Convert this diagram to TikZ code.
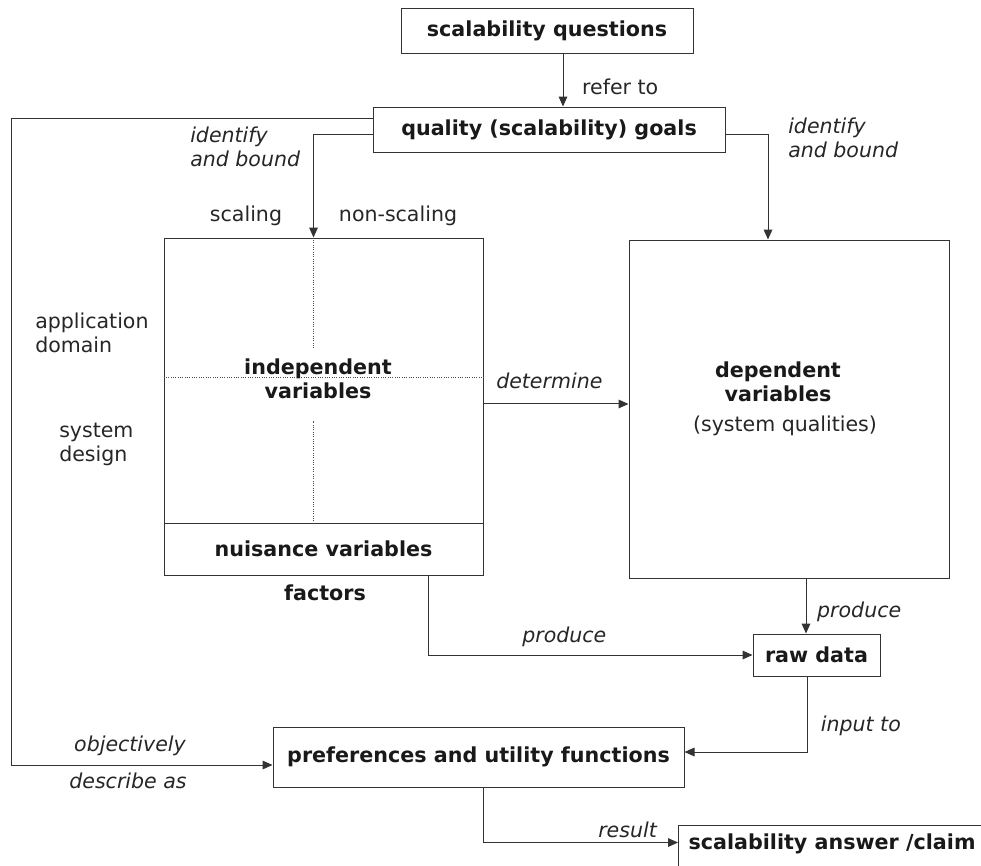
\documentclass[tikz,border=0pt]{standalone}
\usepackage{fontspec}
\setmainfont{DejaVu Sans}
\usetikzlibrary{arrows.meta}

\begin{document}
\begin{tikzpicture}[x=0.75pt,y=-0.75pt,>={Triangle[length=7.5pt,width=6.5pt]},
		box/.style={draw=black!80,line width=0.75pt,inner sep=0pt,text=black!90,align=center,font=\fontsize{15.5}{18}\selectfont\bfseries},
		txt/.style={inner sep=0pt,text=black!85,align=left,font=\fontsize{15.4}{18}\selectfont},
		slant/.style={txt,font=\fontsize{15.4}{18}\selectfont\itshape},
		link/.style={draw=black!80,line width=0.75pt},
		grid/.style={draw=black!70,line width=0.75pt,densely dotted}]
			\path[use as bounding box,clip] (0,0) rectangle (981,865);
			% boxes
			\node[box,minimum width=219pt,minimum height=33.75pt] (quest) at (547,30.5) {scalability questions};
			\node[box,minimum width=264pt,minimum height=33.75pt] (goals) at (549,129.5) {quality (scalability) goals};
			\node[box,minimum width=239.25pt,minimum height=213.75pt] (indep) at (323.5,380.5) {};
			\node[box,minimum width=239.25pt,minimum height=39pt] (nuis) at (323.5,549) {nuisance variables};
			\node[box,minimum width=240pt,minimum height=253.5pt] (dep) at (789,409) {};
			\node[box,minimum width=95.25pt,minimum height=31.5pt] (raw) at (816.5,655) {raw data};
			\node[box,minimum width=308.25pt,minimum height=45pt] (pref) at (478.5,757) {preferences and utility functions};
			\node[box,anchor=north west,minimum width=241.5pt,minimum height=45pt] (ans) at (678,825) {};
			% dotted split of the factors
			\draw[grid] ([yshift=1.9pt]indep.west) -- ([yshift=1.9pt]indep.east);
			\draw[grid] ([xshift=-7.5pt]indep.north) -- ++(0,110);
			\draw[grid] ([xshift=-7.5pt]indep.south) -- ++(0,-103);
			% texts
			\node[box,draw=none] (indtxt) at (318,379) {independent\\variables};
			\node[box,draw=none] (deptxt) at (778,382) {dependent\\variables};
			\node[txt] (qual) at (785,426) {(system qualities)};
			\node[box,draw=none,anchor=west] (anstxt) at (688,844) {scalability answer /claim};
			\node[box,draw=none] (fact) at (325,593) {factors};
			\node[txt] (scal) at (246,216) {scaling};
			\node[txt] (nonscal) at (398,216) {non-scaling};
			\node[txt,anchor=west] (appl) at (35,333) {application\\domain};
			\node[txt,anchor=west] (sysd) at (59,444) {system\\design};
			\node[slant,anchor=west] (idl) at (190,147) {identify\\and bound};
			\node[slant,anchor=west] (idr) at (788,138) {identify\\and bound};
			\node[slant] (obj) at (130,746) {objectively};
			\node[slant] (desc) at (128,781) {describe as};
			% connectors
			\draw[link,->] ([xshift=12pt]quest.south) -- ([xshift=12pt]quest.south |- goals.north) node[txt,midway,right=14pt,yshift=-5pt]{refer to};
			\draw[link,->] ([yshift=8.6pt]goals.west) -- ++(-361,0) |- ([yshift=-6pt]pref.west);
			\draw[link,->] ([yshift=-4.1pt]goals.west) -| ([xshift=-7.5pt]indep.north);
			\draw[link,->] ([yshift=-4.1pt]goals.east) -| ([xshift=-15.75pt]dep.north);
			\coordinate (det) at ([yshift=-17.6pt]indep.east);
			\draw[link,->] (det) -- (det -| dep.west) node[slant,midway,above=11pt,xshift=-5pt]{determine};
			\draw[link,->] ([xshift=12.75pt]dep.south) -- ([xshift=12.75pt]dep.south |- raw.north) node[slant,midway,right=8pt,yshift=-4pt]{produce};
			\draw[link,->] ([xshift=78.4pt]nuis.south) |- (raw.west) node[slant,pos=0.71,above=6pt]{produce};
			\draw[link,->] ([xshift=-7.1pt]raw.south) |- ([yshift=3.75pt]pref.east) node[slant,pos=0.31,right=10pt,yshift=-2pt]{input to};
			\draw[link,->] ([xshift=4.1pt]pref.south) |- ([yshift=9.75pt]ans.west) node[slant,pos=0.87,above=3pt]{result};
		\end{tikzpicture}
\end{document}
